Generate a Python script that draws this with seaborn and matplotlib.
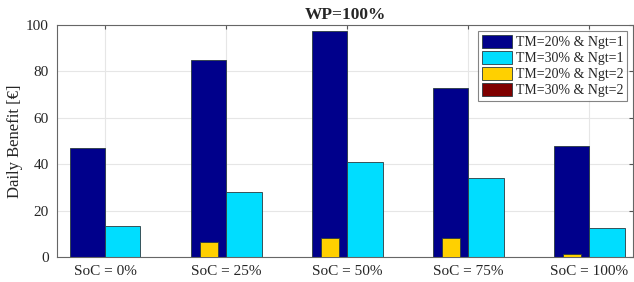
import numpy as np
import pandas as pd
import matplotlib
matplotlib.use("Agg")
import matplotlib.pyplot as plt
import seaborn as sns

# ===================== DATOS =====================
soc = ["SoC = 0%", "SoC = 25%", "SoC = 50%", "SoC = 75%", "SoC = 100%"]
tm20_ngt1 = [47.0, 85.0, 97.5, 73.0, 48.0]
tm30_ngt1 = [13.2, 28.0, 41.0, 34.2, 12.5]
tm20_ngt2 = [0.0, 6.6, 8.2, 8.0, 1.5]
tm30_ngt2 = [0.0, 0.0, 0.0, 0.0, 0.0]

series_names = ["TM=20% & Ngt=1", "TM=30% & Ngt=1", "TM=20% & Ngt=2", "TM=30% & Ngt=2"]
colores = ["#00008B", "#00DDFF", "#FFD000", "#7F0000"]

df_ngt1 = pd.DataFrame({
    "SoC": soc * 2,
    "Benefit": tm20_ngt1 + tm30_ngt1,
    "Serie": [series_names[0]] * 5 + [series_names[1]] * 5,
})
df_ngt2 = pd.DataFrame({
    "SoC": soc * 2,
    "Benefit": tm20_ngt2 + tm30_ngt2,
    "Serie": [series_names[2]] * 5 + [series_names[3]] * 5,
})

# ===================== FIGURA =====================
sns.set_style("white")
plt.rcParams["font.family"] = ["Liberation Serif", "DejaVu Serif"]

fig = plt.figure(figsize=(6.34, 2.82), dpi=100)
ax = fig.add_axes([57 / 634, 1 - 257 / 282, (633 - 57) / 634, (257 - 25) / 282])

sns.barplot(data=df_ngt1, x="SoC", y="Benefit", hue="Serie", palette=colores[:2],
            saturation=1, width=0.58, dodge=True, edgecolor="#2a3a40", linewidth=0.6,
            ax=ax, zorder=2)
n_first = len(ax.patches)
sns.barplot(data=df_ngt2, x="SoC", y="Benefit", hue="Serie", palette=colores[2:],
            saturation=1, width=0.58, dodge=True, edgecolor="#2a3a40", linewidth=0.6,
            ax=ax, zorder=3)

# barras de Ngt=2 más estrechas, centradas sobre las de Ngt=1
for p in ax.patches[n_first:]:
    w = p.get_width()
    p.set_x(p.get_x() + w / 4)
    p.set_width(w / 2)

ax.set_xlim(-0.4, 4.36)
ax.set_ylim(0, 100)
ax.set_yticks([0, 20, 40, 60, 80, 100])
ax.set_xlabel("")
ax.set_ylabel("Daily Benefit [€]", fontsize=12, labelpad=2)
ax.set_title("WP=100%", fontsize=12.5, fontweight="bold", pad=4)

ax.grid(True, color="#e6e6e6", linewidth=0.8, zorder=0)
ax.set_axisbelow(True)
ax.tick_params(direction="in", top=True, right=True, labelsize=11, length=3,
               color="#555555", pad=6)
for s in ax.spines.values():
    s.set_visible(True)
    s.set_color("#666666")
    s.set_linewidth(0.8)

handles, labels = ax.get_legend_handles_labels()
if ax.get_legend() is not None:
    ax.get_legend().remove()
leg = ax.legend(handles, labels, loc="upper right", bbox_to_anchor=(0.995, 0.985),
                fontsize=10, frameon=True, fancybox=False, edgecolor="#666666",
                handlelength=2.2, handleheight=1.1, handletextpad=0.3,
                labelspacing=0.12, borderpad=0.25, borderaxespad=0.2)
leg.get_frame().set_linewidth(0.8)

fig.savefig("out.png", dpi=100)
